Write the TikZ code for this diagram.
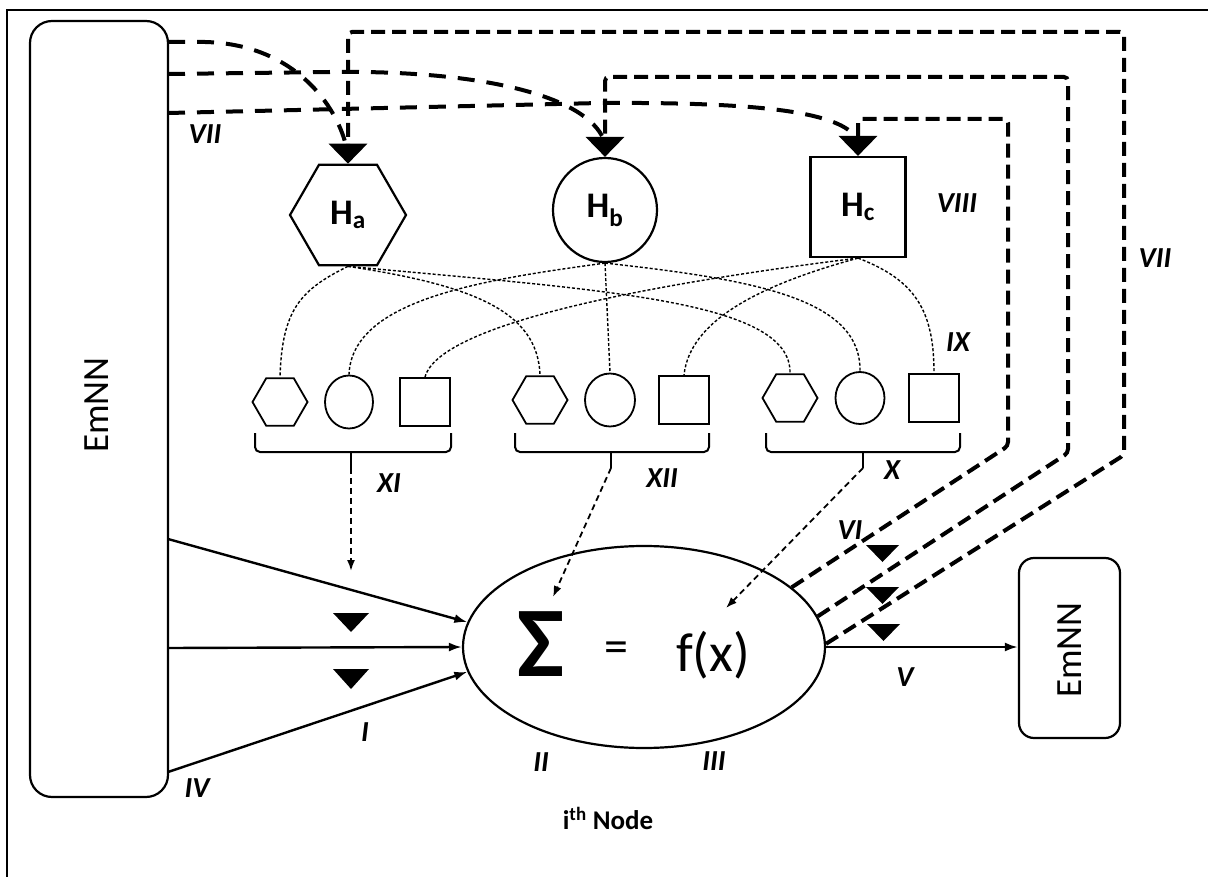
\documentclass[tikz,border=0pt]{standalone}
\usepackage{fontspec}
\setmainfont{Carlito}
\usetikzlibrary{shapes.geometric,arrows.meta,calc}
\begin{document}
\begin{tikzpicture}[x=1pt,y=-1pt,
  box/.style={draw,line width=2.2pt,rounded corners=22pt,inner sep=0pt},
  shp/.style={draw,line width=2.2pt,inner sep=0pt},
  sml/.style={draw,line width=1.8pt,inner sep=0pt},
  lab/.style={font=\fontsize{29}{31}\selectfont\bfseries\itshape,inner sep=0pt},
  hfont/.style={font=\fontsize{36}{38}\selectfont\bfseries},
  fb/.style={line width=4pt,dash pattern=on 14pt off 7pt,rounded corners=4pt,-{Triangle[length=20pt,width=38pt]}},
  vii/.style={line width=4pt,dash pattern=on 17pt off 12pt},
  dotc/.style={line width=1.4pt,dash pattern=on 3pt off 2pt},
  brk/.style={line width=2pt,rounded corners=5pt},
  inarr/.style={line width=2.4pt,-{Latex[length=13pt,width=9pt]}},
  sarr/.style={line width=1.8pt,dash pattern=on 6pt off 4pt,-{Latex[length=11pt,width=8pt]}},
  emnn/.style={rotate=90,font=\fontsize{37}{40}\selectfont,inner sep=0pt}
]
\useasboundingbox (0,0) rectangle (1208,877);
% frame
\draw[line width=2pt] (7,877) -- (7,10) -- (1208,10);

% EmNN boxes
\node[box, minimum width=138pt, minimum height=776pt] (L) at (99,409) {};
\node[emnn] (Ltxt) at (97,405) {EmNN};
\node[box, rounded corners=15pt, minimum width=101pt, minimum height=180pt] (R) at (1069.5,648) {};
\node[emnn] (Rtxt) at (1070,650) {EmNN};

% central node
\node[draw, line width=2.2pt, ellipse, minimum width=362pt, minimum height=202pt, inner sep=0pt] (E) at (644,647) {};
\node[font=\fontsize{100}{100}\selectfont\bfseries, inner sep=0pt] (sig) at (541,644) {Σ};
\node[font=\fontsize{48}{50}\selectfont, inner sep=0pt] (eq) at (616,652) {=};
\node[font=\fontsize{55}{58}\selectfont, inner sep=0pt] (fx) at (713,655) {f(x)};
\node[font=\fontsize{27}{29}\selectfont\bfseries, inner sep=0pt] (ith) at (608,818) {i\textsuperscript{th} Node};

% big H nodes
\node[shp, hfont, regular polygon, regular polygon sides=6, minimum size=116pt] (Ha) at (348,215) {H\textsubscript{a}};
\node[shp, hfont, circle, minimum size=104pt] (Hb) at (605,210) {H\textsubscript{b}};
\node[shp, hfont, rectangle, minimum width=95pt, minimum height=100pt] (Hc) at (858,207) {H\textsubscript{c}};

% small shapes
\node[sml, regular polygon, regular polygon sides=6, minimum size=55pt] (h1) at (280,402) {};
\node[sml, ellipse, minimum width=48pt, minimum height=53pt] (c1) at (349,402) {};
\node[sml, rectangle, minimum width=50pt, minimum height=48pt] (s1) at (425,402) {};
\node[sml, regular polygon, regular polygon sides=6, minimum size=55pt] (h2) at (540,400) {};
\node[sml, ellipse, minimum width=50pt, minimum height=53pt] (c2) at (610,400) {};
\node[sml, rectangle, minimum width=50pt, minimum height=48pt] (s2) at (684,400) {};
\node[sml, regular polygon, regular polygon sides=6, minimum size=55pt] (h3) at (790,398) {};
\node[sml, ellipse, minimum width=49pt, minimum height=52pt] (c3) at (860,398) {};
\node[sml, rectangle, minimum width=50pt, minimum height=48pt] (s3) at (934,398) {};

% dotted connections
\draw[dotc] (Ha.south) .. controls (300,290) and (282,310) .. (h1.north);
\draw[dotc] (Ha.south) .. controls (470,285) and (538,310) .. (h2.north);
\draw[dotc] (Ha.south) .. controls (600,290) and (792,300) .. (h3.north);
\draw[dotc] (Hb.south) .. controls (480,280) and (352,300) .. (c1.north);
\draw[dotc] (Hb.south) -- (c2.north);
\draw[dotc] (Hb.south) .. controls (760,280) and (861,300) .. (c3.north);
\draw[dotc] (Hc.south) .. controls (680,280) and (440,320) .. (s1.north);
\draw[dotc] (Hc.south) .. controls (760,285) and (690,320) .. (s2.north);
\draw[dotc] (Hc.south) .. controls (915,280) and (934,310) .. (s3.north);

% brackets
\draw[brk] (255,433) -- (255,452) -- (451,452) -- (451,433);
\draw[line width=2pt] (351,452) -- (351,468) coordinate (t1);
\draw[brk] (515,433) -- (515,452) -- (709,452) -- (709,433);
\draw[line width=2pt] (611,452) -- (611,468) coordinate (t2);
\draw[brk] (766,433) -- (766,452) -- (960,452) -- (960,433);
\draw[line width=2pt] (863,452) -- (863,468) coordinate (t3);

\coordinate (p1) at (351,571);
\coordinate (p2) at (553,597);
\coordinate (p3) at (726,608);
\draw[sarr] (t1) -- (p1);
\draw[sarr] (t2) -- (p2);
\draw[sarr] (t3) -- (p3);

% input arrows
\coordinate (o1) at (168,539);
\coordinate (o2) at (168,648);
\coordinate (o3) at (168,772);
\draw[inarr] (o1) -- (E.172);
\draw[inarr] (o2) -- (E.west);
\draw[inarr] (o3) -- (E.188);
\fill (333,613) -- (369,613) -- (351,632) -- cycle;
\fill (333,669) -- (369,669) -- (351,689) -- cycle;

% output
\draw[inarr] (E.east) -- (E.east -| R.west);

% feedback lines
\draw[fb] (E.22) -- (1008,446) -- (1008,119) -- (858,119) -- (Hc.north);
\draw[fb] (E.10) -- (1068,453) -- (1068,77) -- (605,77) -- (Hb.north);
\draw[fb] (E.1) -- (1124,455) -- (1124,32) -- (348,32) -- (Ha.north);
\fill (866,545) -- (899,545) -- (882.5,562) -- cycle;
\fill (866,587) -- (899,587) -- (882.5,604) -- cycle;
\fill (867,624) -- (900,624) -- (883.5,641) -- cycle;

% VII curves from left EmNN
\coordinate (q1) at (168,42);
\coordinate (q2) at (168,74);
\coordinate (q3) at (168,113);
\draw[vii] (q1) -- (205,42) .. controls (290,44) and (333,100) .. ($(Ha.north)+(-3,-22)$);
\draw[vii] (q2) -- (330,72) .. controls (480,70) and (580,95) .. ($(Hb.north)+(-3,-21)$);
\draw[vii] (q3) -- (600,103) .. controls (760,102) and (835,112) .. ($(Hc.north)+(-3,-20)$);

% labels
\node[lab] (lVIIa) at (205,134) {VII};
\node[lab] (lVIII) at (957,203) {VIII};
\node[lab] (lVIIb) at (1155,258) {VII};
\node[lab] (lIX) at (958,342) {IX};
\node[lab] (lX) at (892,470) {X};
\node[lab] (lXI) at (389,483) {XI};
\node[lab] (lXII) at (662,478) {XII};
\node[lab] (lVI) at (850,530) {VI};
\node[lab] (lV) at (905,677) {V};
\node[lab] (lI) at (365,732) {I};
\node[lab] (lII) at (541,762) {II};
\node[lab] (lIII) at (714,761) {III};
\node[lab] (lIV) at (197,788) {IV};
\end{tikzpicture}
\end{document}
